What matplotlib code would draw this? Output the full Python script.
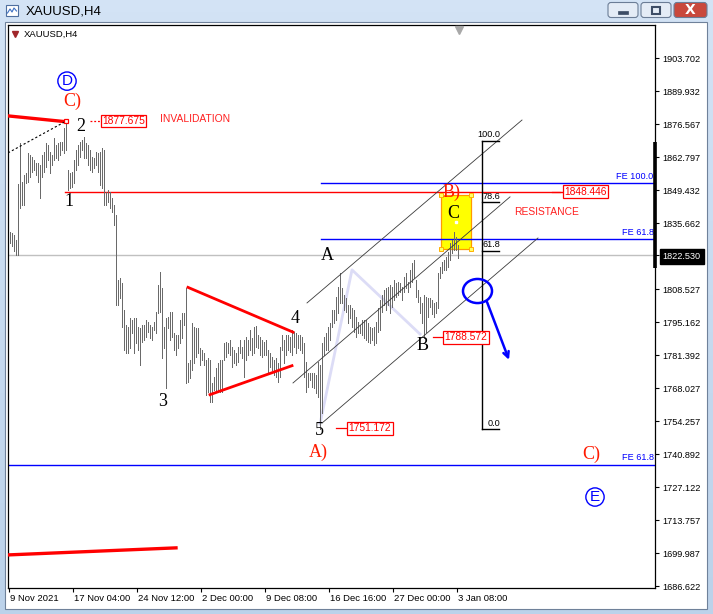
import matplotlib
matplotlib.use('Agg')
import matplotlib.pyplot as plt
from matplotlib.patches import Rectangle, Ellipse, FancyBboxPatch
from matplotlib.colors import LinearSegmentedColormap
from matplotlib.transforms import ScaledTranslation
import numpy as np

# XAUUSD H4 bars, high / low
bar_high = [
    1832.2, 1831.8, 1830.9, 1828.9, 1851.9, 1868.8, 1852.7, 1855.6, 1856.5, 1864.7,
    1863.8, 1863.0, 1861.8, 1860.6, 1860.6, 1859.7, 1863.8, 1865.1, 1868.8, 1867.9,
    1865.1, 1863.8, 1870.8, 1867.9, 1868.8, 1869.2, 1869.2, 1874.9, 1877.7, 1857.7,
    1856.5, 1856.9, 1861.8, 1865.9, 1867.9, 1869.2, 1870.0, 1871.2, 1868.8, 1867.9,
    1865.9, 1863.0, 1862.6, 1865.1, 1864.7, 1865.1, 1866.7, 1865.9, 1848.6, 1849.4,
    1848.6, 1846.1, 1843.2, 1839.1, 1812.5, 1813.3, 1811.3, 1800.1, 1793.9, 1793.1,
    1796.8, 1796.0, 1796.8, 1796.8, 1793.1, 1792.7, 1793.9, 1793.9, 1796.0, 1795.2,
    1793.9, 1793.1, 1795.2, 1799.3, 1810.4, 1815.7, 1809.1, 1793.1, 1796.8, 1797.2,
    1799.3, 1799.3, 1790.7, 1789.9, 1789.9, 1796.0, 1798.9, 1798.9, 1809.1, 1778.3,
    1779.6, 1794.8, 1793.1, 1792.7, 1792.7, 1784.5, 1783.7, 1782.5, 1779.6, 1780.4,
    1779.6, 1770.1, 1772.6, 1776.3, 1778.3, 1779.6, 1779.6, 1786.6, 1787.0, 1786.6,
    1787.8, 1784.9, 1783.7, 1782.5, 1784.9, 1787.8, 1784.9, 1787.8, 1789.0, 1787.8,
    1791.9, 1788.6, 1793.1, 1793.5, 1789.9, 1789.0, 1787.8, 1787.0, 1787.8, 1783.7,
    1782.5, 1780.8, 1779.6, 1780.4, 1778.3, 1784.9, 1789.9, 1787.8, 1789.9, 1789.9,
    1789.0, 1791.9, 1791.1, 1790.7, 1789.9, 1789.9, 1789.0, 1786.6, 1778.8, 1774.2,
    1774.2, 1774.2, 1774.2, 1773.4, 1778.8, 1777.5, 1786.6, 1789.0, 1790.7, 1793.1,
    1794.8, 1800.1, 1800.1, 1805.4, 1809.5, 1815.3, 1809.1, 1806.2, 1805.0, 1802.1,
    1802.1, 1800.9, 1800.1, 1797.2, 1795.2, 1793.9, 1796.0, 1796.0, 1796.0, 1794.8,
    1793.1, 1792.7, 1793.1, 1795.2, 1800.9, 1804.2, 1806.2, 1808.3, 1809.1, 1809.5,
    1810.4, 1809.5, 1812.5, 1811.3, 1811.7, 1811.3, 1809.5, 1813.7, 1815.3, 1811.7,
    1816.6, 1819.4, 1820.7, 1812.5, 1808.3, 1805.4, 1803.0, 1806.2, 1805.4, 1805.0,
    1805.0, 1804.2, 1803.0, 1803.4, 1815.3, 1817.8, 1819.8, 1820.7, 1821.9, 1824.0,
    1827.7, 1828.9, 1832.2, 1830.1, 1826.8]
bar_low = [
    1827.7, 1826.4, 1824.4, 1822.7, 1822.7, 1842.0, 1843.2, 1843.2, 1852.3, 1852.7,
    1854.8, 1856.9, 1857.7, 1855.6, 1852.7, 1846.1, 1854.8, 1856.9, 1858.9, 1861.8,
    1856.5, 1859.7, 1861.8, 1862.6, 1861.8, 1863.8, 1865.9, 1864.7, 1865.9, 1849.4,
    1850.3, 1850.7, 1852.3, 1857.7, 1859.7, 1863.0, 1865.9, 1862.6, 1862.6, 1859.7,
    1857.7, 1856.9, 1858.5, 1859.7, 1856.9, 1851.4, 1850.2, 1843.2, 1843.2, 1844.5,
    1842.0, 1840.4, 1835.1, 1802.1, 1802.1, 1805.0, 1793.2, 1783.7, 1782.5, 1782.5,
    1784.5, 1790.7, 1782.5, 1786.6, 1783.7, 1777.5, 1787.0, 1787.8, 1789.0, 1791.1,
    1788.6, 1787.8, 1791.9, 1790.7, 1798.9, 1799.3, 1780.4, 1784.5, 1768.0, 1792.7,
    1787.8, 1789.0, 1783.7, 1781.6, 1784.5, 1786.6, 1788.6, 1793.9, 1770.1, 1770.5,
    1772.2, 1775.4, 1778.3, 1780.8, 1782.5, 1777.5, 1779.6, 1777.5, 1765.1, 1766.4,
    1762.3, 1762.3, 1767.2, 1766.4, 1766.4, 1766.4, 1766.4, 1779.6, 1780.8, 1782.5,
    1781.6, 1776.7, 1778.3, 1777.5, 1778.8, 1782.5, 1780.4, 1772.6, 1779.6, 1781.6,
    1783.7, 1781.6, 1782.5, 1784.9, 1784.5, 1781.6, 1780.8, 1781.6, 1781.6, 1774.6,
    1776.7, 1775.4, 1773.4, 1772.6, 1770.5, 1772.6, 1783.7, 1778.3, 1781.6, 1783.7,
    1782.9, 1781.6, 1784.9, 1782.5, 1784.5, 1783.7, 1782.5, 1772.6, 1766.4, 1768.4,
    1771.3, 1768.4, 1768.0, 1766.0, 1764.3, 1751.2, 1757.7, 1781.6, 1783.7, 1783.7,
    1787.8, 1793.1, 1794.8, 1796.0, 1798.9, 1803.0, 1803.0, 1800.1, 1799.3, 1794.8,
    1796.8, 1793.1, 1791.1, 1789.0, 1790.7, 1790.7, 1789.9, 1788.6, 1787.8, 1787.0,
    1786.6, 1787.8, 1785.8, 1786.6, 1791.1, 1791.9, 1799.3, 1802.1, 1800.1, 1802.1,
    1798.9, 1801.3, 1804.2, 1805.4, 1806.2, 1807.5, 1804.2, 1807.5, 1809.1, 1807.5,
    1809.5, 1811.7, 1813.3, 1805.4, 1803.4, 1798.9, 1794.8, 1788.6, 1791.1, 1797.2,
    1801.3, 1798.5, 1797.2, 1798.9, 1800.9, 1813.3, 1815.3, 1816.6, 1816.6, 1817.8,
    1820.7, 1823.5, 1824.8, 1824.8, 1821.5]
last_price = 1822.530

price_ticks = [1903.702, 1889.932, 1876.567, 1862.797, 1849.432, 1835.662,
               1808.527, 1795.162, 1781.392, 1768.027, 1754.257, 1740.892,
               1727.122, 1713.757, 1699.987, 1686.622]
date_ticks = [-0.5, 31.5, 63.5, 95.5, 127.5, 159.5, 191.5, 223.5]
date_labels = ['9 Nov 2021', '17 Nov 04:00', '24 Nov 12:00', '2 Dec 00:00',
               '9 Dec 08:00', '16 Dec 16:00', '27 Dec 00:00', '3 Jan 08:00']

# wave counts (text, bar, price)
wave_black = [('1', 29.5, 1844.9), ('2', 35.5, 1875.4), ('3', 76.5, 1762.3),
              ('4', 142.5, 1796.4), ('5', 154.5, 1750.4), ('A', 158.5, 1822.3),
              ('B', 206.5, 1785.3), ('C', 221.5, 1839.6)]
wave_red = [('C)', 31, 1886.0), ('A)', 154, 1741.7), ('B)', 221, 1848.6),
            ('C)', 290.5, 1740.9)]
wave_circled = [('D', 28.5, 1894.2), ('E', 292.5, 1723.2)]

# price tags: text, bar, price, lead line start, lead line end
price_tags = [('1877.675', 56.75, 1877.8, 40, 45),
              ('1848.446', 287.75, 1848.8, 271, 275),
              ('1788.572', 228, 1788.8, 211.5, 216.5),
              ('1751.172', 180, 1751.4, 163, 168.5)]

fe_levels = [('FE 100.0', 1852.3, 155.5), ('FE 61.8', 1829.3, 155.5),
             ('FE 61.8', 1736.4, -1)]
fib_low, fib_high = 1751.172, 1869.7
fib_levels = [0.0, 61.8, 78.6, 100.0]

channel = [((148.5, 256), (1803.0, 1878.2)),
           ((141.5, 250), (1770.1, 1846.6)),
           ((156, 264), (1753.6, 1829.7))]
zigzag_x = [155, 171, 205]
zigzag_y = [1753.2, 1816.6, 1790.2]
tri_upper = ((89, 141.5), (1809.4, 1791.0))
tri_lower = ((100, 141), (1765.3, 1777.2))
big_upper = ((-1, 28), (1879.9, 1877.5))
big_lower = ((-1, 83), (1699.4, 1702.3))
dotted = ((-1, 27.5), (1864.7, 1877.5))

W, H = 713, 614
fig = plt.figure(figsize=(W / 100, H / 100), dpi=100)
fig.patch.set_facecolor('#bcd3ec')

# ---- window chrome ----
bg = fig.add_axes([0, 0, 1, 1], zorder=-1)
bg.set_xlim(0, W)
bg.set_ylim(H, 0)
bg.axis('off')
cm = LinearSegmentedColormap.from_list('t', ['#d3e3f5', '#bcd2ea'])
bg.imshow(np.linspace(0, 1, 50)[:, None], extent=(0, W, H, 0), cmap=cm, aspect='auto')
bg.add_patch(Rectangle((5, 22), 702, 587, fc='white', ec='#6f819a', lw=0.8))
bg.add_patch(Rectangle((6, 5), 12, 11, fc='white', ec='#4f6f9f', lw=0.8))
bg.plot([7.5, 10, 12, 14, 16.5], [13, 9, 12, 8, 11], color='#3b6fc2', lw=0.8)
bg.text(26, 11, 'XAUUSD,H4', fontsize=9.5, family='Liberation Sans', va='center', ha='left')
for x0, face in [(608, '#e4ecf6'), (641, '#e4ecf6'), (674, '#c9483c')]:
    bg.add_patch(FancyBboxPatch((x0, 2.5), 30 if x0 < 674 else 33, 15,
                                boxstyle='round,pad=0,rounding_size=3',
                                fc=face, ec='#6b7d96', lw=0.8))
bg.add_patch(Rectangle((618, 11), 10, 2.5, fc='#3d4d66', ec='#3d4d66', lw=0.5))
bg.add_patch(Rectangle((652, 6.5), 8, 7, fc='none', ec='#3d4d66', lw=1.5))
bg.text(690.5, 10.5, 'X', color='white', fontsize=10, fontweight='bold',
        ha='center', va='center', family='DejaVu Sans')

# ---- chart ----
ax = fig.add_axes([8 / W, 26 / H, 647 / W, 563 / H])
ax.set_facecolor('white')
ax.set_xlim(-1, 322.5)
ax.set_ylim(1685.80, 1917.27)
for s in ax.spines.values():
    s.set_color('black')
    s.set_linewidth(0.9)

idx = np.arange(len(bar_high))
ax.vlines(idx, bar_low, bar_high, colors='#6a6a6a', linewidth=0.45,
          antialiased=False, zorder=3)

ax.axhline(last_price, color='#c0c0c0', lw=1, zorder=1)

# big contracting lines
ax.plot(*big_upper, color='red', lw=2.4, zorder=4)
ax.plot(*big_lower, color='red', lw=2.4, zorder=4)
ax.plot(*dotted, color='black', lw=0.8, ls=(0, (2, 2)), zorder=4)
ax.plot(28, 1877.675, marker='s', ms=3.5, mfc='white', mec='red', mew=0.9, zorder=5)

# triangle
ax.plot(*tri_upper, color='red', lw=2.0, zorder=4)
ax.plot(*tri_lower, color='red', lw=2.0, zorder=4)

# channel and zigzag
for cx, cy in channel:
    ax.plot(cx, cy, color='#3a3a3a', lw=0.6, zorder=4)
ax.plot(zigzag_x, zigzag_y, color='#dcdcf6', lw=2, zorder=2)

# horizontal levels
ax.plot([27.5, 276], [1848.446, 1848.446], color='red', lw=1, zorder=2)
for label, lvl, start in fe_levels:
    ax.plot([start, 322.5], [lvl, lvl], color='#0000ff', lw=1, zorder=2)
    ax.text(321.8, lvl + 1.0, label, color='#0000ff', fontsize=6.6,
            family='Liberation Sans', ha='right', va='bottom')

# fibonacci
ax.plot([236, 236], [fib_low, fib_high], color='black', lw=1, zorder=4)
for lv in fib_levels:
    p = fib_low + (fib_high - fib_low) * lv / 100
    ax.plot([236, 244.5], [p, p], color='black', lw=1, zorder=4)
    ax.text(245, p + 0.6, f'{lv:.1f}', fontsize=6.6, family='Liberation Sans',
            ha='right', va='bottom')

# yellow box
ax.add_patch(Rectangle((215.5, 1825.2), 15, 22.2, fc='#ffff00', ec='#ff9a00', lw=0.9, zorder=1.5))
ax.plot([215.5, 230.5, 215.5, 230.5], [1825.2, 1825.2, 1847.4, 1847.4], ls='none',
        marker='s', ms=3, mfc='#ffff66', mec='#ffb000', mew=0.7, zorder=5)
ax.plot(223, 1836.3, marker='s', ms=2, mfc='white', mec='white', zorder=5)

# blue circle and arrow
ax.add_patch(Ellipse((233.75, 1807.9), 14.5, 9.9, fc='none', ec='#0000ff', lw=1.8, zorder=5))
ax.annotate('', xy=(249.5, 1779.6), xytext=(238.5, 1803.4),
            arrowprops=dict(arrowstyle='->', color='#0000ff', lw=1.8,
                            mutation_scale=10, shrinkA=0, shrinkB=0), zorder=5)

# price tags
for txt, bx, py, l0, l1 in price_tags:
    ax.plot([l0, l1], [py, py], color='red', lw=0.9,
            ls=(0, (1.5, 1.5)) if txt == '1877.675' else '-', zorder=5)
    ax.text(bx, py, txt, color='red', fontsize=7.4, family='Liberation Sans',
            ha='center', va='center', zorder=6,
            bbox=dict(boxstyle='square,pad=0.12', fc='white', ec='red', lw=0.9))

ax.text(92.5, 1878.6, 'INVALIDATION', color='#ff2020', fontsize=7.4,
        family='Liberation Sans', ha='center', va='center')
ax.text(268.5, 1840.4, 'RESISTANCE', color='#ff2020', fontsize=7.4,
        family='Liberation Sans', ha='center', va='center')

for t, bx, py in wave_black:
    ax.text(bx, py, t, color='black', fontsize=13, family='Liberation Serif',
            ha='center', va='center', zorder=6)
for t, bx, py in wave_red:
    ax.text(bx, py, t, color='#ff1a00', fontsize=13, family='Liberation Serif',
            ha='center', va='center', zorder=6)
for t, bx, py in wave_circled:
    ax.text(bx, py, t, color='#0000ff', fontsize=11, family='Liberation Sans',
            ha='center', va='center', zorder=6,
            bbox=dict(boxstyle='circle,pad=0.14', fc='none', ec='#0000ff', lw=1.0))

# chart header and shift marker
ax.plot(2.25, 1913.6, marker='v', ms=4, color='#a0262a', zorder=6)
ax.text(7, 1913.6, 'XAUUSD,H4', fontsize=6.8, family='Liberation Sans',
        ha='left', va='center')
ax.plot(224.5, 1915.3, marker='v', ms=6, color='#a8a8a8', clip_on=False, zorder=6)

# price axis
ax.yaxis.tick_right()
yt = sorted(price_ticks + [last_price])
ax.set_yticks(yt, [f'{v:.3f}' for v in yt])
ax.tick_params(axis='y', direction='out', length=3, width=0.8, pad=2.5,
               labelsize=6.6, colors='black')
for lab, v in zip(ax.get_yticklabels(), yt):
    lab.set_family('Liberation Sans')
    if v == last_price:
        lab.set_color('white')
        lab.set_bbox(dict(boxstyle='square,pad=0.3', fc='black', ec='black'))
ax.plot([322.5, 322.5], [1817.4, 1869.2], color='black', lw=2.6,
        solid_capstyle='butt', clip_on=False, zorder=7)

# time axis
ax.set_xticks(date_ticks, date_labels, ha='left')
ax.tick_params(axis='x', direction='out', length=3, width=0.8, pad=1.5,
               labelsize=6.8, colors='black')
off = ScaledTranslation(1 / 72, 0, fig.dpi_scale_trans)
for lab in ax.get_xticklabels():
    lab.set_family('Liberation Sans')
    lab.set_transform(lab.get_transform() + off)

fig.savefig('out.png', dpi=100, facecolor=fig.get_facecolor())
